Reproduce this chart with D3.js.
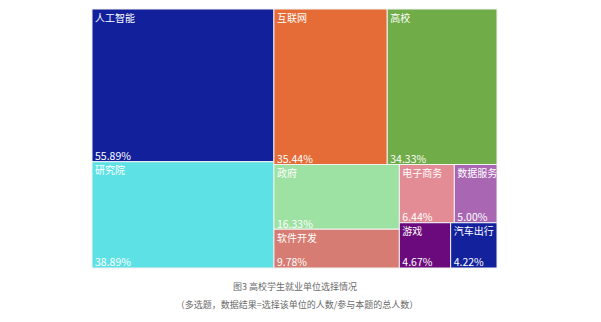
<!DOCTYPE html>
<html>
<head>
<meta charset="utf-8">
<script src="https://cdn.jsdelivr.net/npm/d3@7/dist/d3.min.js"></script>
<style>
  html, body { margin: 0; padding: 0; background: #fff; }
  svg { display: block; }
  text { font-family: "Noto Sans CJK SC", "Noto Sans", sans-serif; }
</style>
</head>
<body>
<svg id="chart" width="601" height="322"></svg>
<script>
// Employer types chosen by graduates (multiple choice, % of respondents)
const categories = ["人工智能", "研究院", "互联网", "高校", "政府", "软件开发", "电子商务", "数据服务", "游戏", "汽车出行"];
const values = [55.89, 38.89, 35.44, 34.33, 16.33, 9.78, 6.44, 5.00, 4.67, 4.22];
const colors = ["#12219b", "#5ee1e4", "#e56c36", "#70ac47", "#9ee2a3", "#d67c72", "#e48c95", "#a866b3", "#6b0a7c", "#13229c"];
const captionLines = ["图3 高校学生就业单位选择情况", "（多选题，数据结果=选择该单位的人数/参与本题的总人数）"];

const svg = d3.select("#chart");
const box = { x0: 92, y0: 9, x1: 497, y1: 268 };

const root = d3.hierarchy({
  children: categories.map((name, i) => ({ name, value: values[i], color: colors[i] }))
})
  .sum(d => d.value || 0)
  .sort((a, b) => b.value - a.value);

d3.treemap()
  .tile(d3.treemapSquarify)
  .size([box.x1 - box.x0, box.y1 - box.y0])
  .paddingInner(0)
  .round(false)(root);

const cell = svg.append("g")
  .attr("transform", `translate(${box.x0},${box.y0})`)
  .selectAll("g")
  .data(root.leaves())
  .join("g")
  .attr("transform", d => `translate(${d.x0},${d.y0})`);

cell.append("rect")
  .attr("width", d => d.x1 - d.x0)
  .attr("height", d => d.y1 - d.y0)
  .attr("fill", d => d.data.color)
  .attr("stroke", "#f2f2f2")
  .attr("stroke-width", 1);

const fmt = d3.format(".2f");

cell.append("text")
  .attr("x", 3)
  .attr("y", 12.5)
  .attr("fill", "#fff")
  .attr("font-size", 10)
  .text(d => d.data.name);

cell.append("text")
  .attr("x", 3)
  .attr("y", d => d.y1 - d.y0 - 1.5)
  .attr("fill", "#fff")
  .attr("font-size", 10.5)
  .text(d => fmt(d.data.value) + "%");

svg.append("g")
  .selectAll("text")
  .data(captionLines)
  .join("text")
  .attr("x", (d, i) => i === 0 ? 295 : 297)
  .attr("y", (d, i) => 289.5 + i * 18)
  .attr("text-anchor", "middle")
  .attr("fill", "#6a6a6a")
  .attr("font-size", 9)
  .text(d => d);
</script>
</body>
</html>
